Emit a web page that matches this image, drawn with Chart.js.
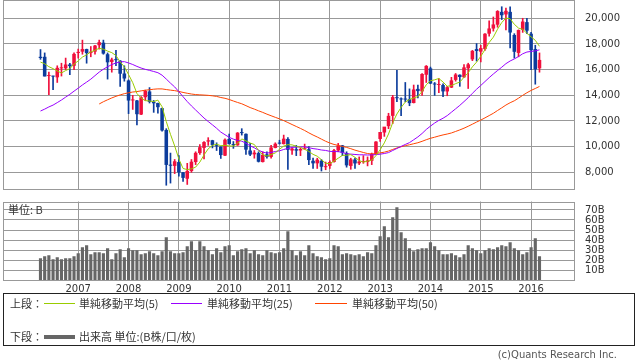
<!DOCTYPE html>
<html>
<head>
<meta charset="utf-8">
<script src="https://cdn.jsdelivr.net/npm/chart.js@4.4.1/dist/chart.umd.min.js"></script>
<style>
  body { margin: 0; background: #fff; width: 638px; height: 362px; overflow: hidden; position: relative;
         font-family: "Noto Sans CJK JP", "DejaVu Sans", sans-serif; color: #333; }
  #priceWrap { position: absolute; left: 0; top: 0; }
  #volWrap { position: absolute; left: 0; top: 200px; }
  .lg { position: absolute; font-size: 11px; line-height: 14px; white-space: nowrap; }
  .ln { position: absolute; display: block; height: 1px; }
  #legend { position: absolute; left: 3px; top: 293px; width: 630px; height: 51px; border: 1px solid #222; }
  #copy { position: absolute; right: 21px; top: 349px; font-size: 10px; color: #555; font-family: "DejaVu Sans", sans-serif; }
  #unit { position: absolute; left: 8px; top: 201px; font-size: 11px; }
</style>
</head>
<body>
<div id="priceWrap"><canvas id="price" width="638" height="191"></canvas></div>
<div id="volWrap"><canvas id="vol" width="638" height="95"></canvas></div>
<div id="unit">単位: B</div>
<div id="legend">
  <span class="lg" style="left:6px;top:2px">上段：</span>
  <span class="ln" style="left:40px;top:9px;width:31px;background:#99cc00"></span>
  <span class="lg" style="left:75px;top:2px">単純移動平均(5)</span>
  <span class="ln" style="left:167px;top:9px;width:31px;background:#9900ff"></span>
  <span class="lg" style="left:203px;top:2px">単純移動平均(25)</span>
  <span class="ln" style="left:311px;top:9px;width:32px;background:#ff4400"></span>
  <span class="lg" style="left:348px;top:2px">単純移動平均(50)</span>
  <span class="lg" style="left:6px;top:35px">下段：</span>
  <span class="ln" style="left:40px;top:41px;width:31px;height:4px;background:#666"></span>
  <span class="lg" style="left:75px;top:35px">出来高 単位:(B株/口/枚)</span>
</div>
<div id="copy">(c)Quants Research Inc.</div>
<script>
// monthly candles, Apr 2006 .. Mar 2016
const yearTicks = [9, 21, 33, 45, 57, 69, 81, 93, 105, 117];
const yearLabels = ['2007','2008','2009','2010','2011','2012','2013','2014','2015','2016'];
const priceTicks = [8000, 10000, 12000, 14000, 16000, 18000, 20000];
const volTicks = [10, 20, 30, 40, 50, 60, 70];

const open = [
  17000,17000,15500,15500,15400,16100,16100,16400,16300,
  17300,17400,17600,17300,17400,17900,18100,17200,16600,16800,16700,15700,
  15155,13600,13600,12500,13850,14300,13500,13400,13000,11300,8600,8500,
  8800,8000,7500,8100,8800,9500,9900,10400,10500,10100,10000,9300,
  10600,10200,10100,11100,11000,9700,9400,9500,8800,9400,9200,9900,
  10300,10200,10600,9700,9800,9700,9800,9800,8900,8700,8900,8400,
  8500,8800,9700,10100,9500,8500,9000,8700,8800,8800,8900,9400,
  10600,11100,11600,12400,13800,13700,13700,13700,13400,14500,14300,15600,
  16100,14900,14800,14800,14300,14600,15200,15600,15400,16100,16800,17600,
  17400,17600,18800,19200,19500,20500,20300,20500,18700,17300,19100,19700,
  18800,17600,16100
];
const high = [
  17563,17302,15800,15500,16300,16500,16900,16500,17300,
  17600,18300,17600,17800,17900,18300,18300,17300,16900,17500,16700,16300,
  15200,14000,13600,13900,14400,14600,13600,13400,13000,11400,9500,9000,
  9300,8000,8700,9000,9600,10170,10400,10700,10500,10300,10000,10600,
  10982,10400,11100,11400,11000,10250,9700,9600,9600,9600,10100,10300,
  10500,10900,10700,9900,10100,9900,10200,10000,9100,9100,9000,8800,
  8900,9800,10255,10100,9600,9100,9100,9200,9300,9200,9500,10400,
  11100,11500,12600,14000,15942,13800,15000,14500,14800,14800,15700,16320,
  16200,15000,15300,14900,14700,15400,15700,15600,16400,16500,17500,18030,
  17900,18800,19800,20100,20600,20900,20800,20900,18800,19100,20000,20000,
  18900,17900,17300
];
const low = [
  16800,15500,14045,14437,15000,15500,16000,15600,16000,
  16900,17200,16500,17000,17200,17600,17200,15262,15800,16300,14700,15100,
  12573,12900,11691,12500,13600,13400,12671,12600,11200,6994,7162,7900,
  7700,7300,7055,8000,8600,9400,9050,10100,9900,9700,9081,9300,
  10200,9867,10100,10900,9400,9300,9100,8800,8800,9100,9100,9900,
  10200,10200,8227,9400,9300,9300,9800,8600,8300,8300,8100,8200,
  8300,8800,9600,9300,8400,8238,8300,8600,8700,8500,8600,9400,
  10400,10800,11400,11800,13500,12415,13500,13188,13400,13800,14000,15000,
  14900,13995,14200,13885,13964,14600,15100,14700,15400,14529,16700,16672,
  16600,17500,18600,19000,19300,19900,19100,17700,16900,17000,18900,18800,
  16000,14865,15800
];
const close = [
  16906,15467,15505,15456,16140,16127,16399,16274,17226,
  17383,17604,17288,17400,17876,18138,17249,16569,16786,16738,15681,15308,
  13592,13604,12526,13850,14338,13481,13377,13073,11260,8577,8512,8860,
  7994,7568,8109,8828,9522,9958,10357,10492,10133,10034,9345,10546,
  10198,10126,11089,11057,9768,9382,9537,8824,9369,9202,9937,10228,
  10237,10624,9755,9849,9693,9816,9833,8955,8700,8988,8434,8455,
  8802,9723,10083,9521,8543,9007,8695,8840,8870,8928,9446,10395,
  11139,11559,12398,13861,13775,13677,13668,13389,14456,14328,15662,16291,
  14915,14841,14828,14304,14632,15162,15621,15425,16174,16414,17460,17451,
  17674,18798,19207,19520,20563,20236,20585,18890,17388,19083,19747,19034,
  17518,16027,16759
];
const ma5 = [
  16586,16457,16228,16079,15895,15739,15925,16079,16433,16682,
  16977,17155,17380,17510,17661,17590,17446,17324,17096,16605,
  16216,15621,14985,14142,13776,13582,13560,13514,13624,13106,
  11954,10960,10056,9041,8302,8209,8272,8404,8797,9355,
  9831,10092,10195,10072,10110,10051,10050,10261,10603,10448,
  10284,10167,9714,9376,9263,9374,9512,9795,10046,10156,
  10139,10032,9947,9789,9629,9399,9258,8982,8706,8676,
  8880,9099,9317,9334,9375,9170,8921,8791,8868,8956,
  9296,9756,10293,10987,11870,12546,13054,13476,13674,13793,
  13904,14301,14825,15130,15207,15307,15036,14704,14753,14909,
  15029,15403,15759,16219,16585,17035,17559,18118,18530,19152,
  19665,20022,19959,19532,19236,19139,18828,18554,18282,17817
];
const ma25 = [
  12775,12924,13094,13238,13431,13633,13856,14076,14322,14558,
  14806,15028,15257,15532,15807,16033,16220,16395,16521,16604,
  16622,16521,16399,16252,16124,16021,15942,15856,15761,15566,
  15264,14948,14652,14283,13890,13510,13172,12857,12540,12229,
  11958,11701,11431,11135,10930,10725,10587,10486,10427,10264,
  10066,9908,9726,9578,9495,9550,9619,9674,9779,9866,
  9936,9970,9982,9977,9921,9849,9804,9740,9704,9634,
  9615,9614,9551,9450,9420,9392,9365,9366,9349,9358,
  9377,9413,9466,9537,9701,9858,10018,10172,10314,10534,
  10759,11026,11340,11599,11840,12045,12213,12418,12683,12947,
  13216,13510,13812,14153,14473,14764,15071,15376,15661,15929,
  16188,16464,16673,16833,17018,17235,17370,17419,17463,17540
];
const ma50 = [
  null,null,null,null,null,null,null,null,null,null,null,null,null,null,
  13324,13500,13650,13794,13922,14031,14126,14196,14255,14290,
  14346,14398,14433,14475,14500,14498,14448,14402,14364,14302,
  14224,14158,14100,14057,14036,14018,13996,13960,13913,13828,
  13767,13674,13554,13443,13340,13194,13043,12925,12791,12669,
  12531,12407,12283,12163,12031,11878,11723,11571,11419,11259,
  11075,10904,10752,10585,10420,10282,10170,10100,10019,9939,
  9842,9729,9636,9546,9463,9427,9463,9516,9570,9658,
  9784,9897,9994,10077,10146,10228,10304,10415,10540,10651,
  10737,10830,10914,10984,11066,11184,11304,11437,11589,11751,
  11916,12070,12242,12421,12599,12815,13023,13241,13422,13574,
  13776,13997,14198,14380,14531,14690
];
const volume = [
  21.8,23.8,24.8,20.8,22.8,20.8,21.8,21.8,23.8,26.8,
  32.8,34.8,25.8,27.8,27.8,26.8,31.8,20.8,26.8,30.8,
  22.8,31.8,29.8,29.8,25.8,26.8,28.8,26.8,24.8,28.8,
  42.8,28.8,26.8,26.8,27.8,33.8,38.8,29.8,38.8,33.8,
  29.8,25.8,31.8,27.8,33.8,34.8,24.8,28.8,30.8,31.8,
  26.8,29.8,25.8,24.8,29.8,27.8,26.8,27.8,31.8,48.8,
  29.8,24.8,28.8,24.8,34.8,26.8,23.8,22.8,20.8,21.8,
  34.8,33.8,25.8,26.8,25.8,24.8,25.8,23.8,27.8,26.8,
  34.8,43.8,53.8,42.8,62.8,72.8,47.8,41.8,31.8,28.8,
  30.8,31.8,31.8,37.8,33.8,29.8,25.8,25.8,26.8,24.8,
  22.8,25.8,34.8,31.8,29.8,26.8,29.8,31.8,30.8,32.8,
  34.8,33.8,37.8,31.8,29.8,25.8,27.8,32.8,41.8,23.8
];

const UP = '#f0103c', DOWN = '#0c3c9c', GRID = '#999999';
const colors = open.map((o, i) => close[i] >= o ? UP : DOWN);
const xy = arr => arr.map((v, i) => ({ x: i, y: v }));
const xMin = -8.94, xMax = 127.47;

const frame = {
  id: 'frame',
  beforeDatasetsDraw(chart) {
    const a = chart.chartArea, c = chart.ctx;
    c.save();
    c.strokeStyle = GRID;
    c.lineWidth = 1;
    c.strokeRect(Math.round(a.left) + 0.5, Math.round(a.top) + 0.5,
                 Math.round(a.right - a.left) - 1, Math.round(a.bottom - a.top) - 1);
    c.restore();
  }
};

const xAxis = (showLabels, h) => ({
  type: 'linear', min: xMin, max: xMax, offset: false,
  afterBuildTicks: s => { s.ticks = yearTicks.map(v => ({ value: v })); },
  afterFit: s => { s.height = h; s.paddingLeft = 0; s.paddingRight = 0; },
  grid: { color: GRID, drawTicks: false, offset: false },
  border: { display: false },
  ticks: {
    display: showLabels, autoSkip: false, maxRotation: 0, padding: 3, color: '#333',
    font: { family: 'DejaVu Sans', size: 10 },
    callback: v => yearLabels[yearTicks.indexOf(v)]
  }
});

// labels sit at the right, away from the frame; no extra vertical room for them
const yAxis = (min, max, list, fmt) => ({
  position: 'right', min: min, max: max,
  afterBuildTicks: s => { s.ticks = list.map(v => ({ value: v })); },
  afterFit: s => { s.width = 63; s.paddingTop = 0; s.paddingBottom = 0; },
  grid: { color: GRID, drawTicks: false },
  border: { display: false },
  ticks: { autoSkip: false, padding: 10, color: '#333', font: { family: 'DejaVu Sans', size: 10 },
           callback: fmt }
});

new Chart(document.getElementById('price'), {
  type: 'bar',
  data: {
    datasets: [
      { type: 'line', data: xy(ma5), borderColor: '#99cc00', borderWidth: 1, pointRadius: 0, tension: 0 },
      { type: 'line', data: xy(ma25), borderColor: '#9900ff', borderWidth: 1, pointRadius: 0, tension: 0 },
      { type: 'line', data: xy(ma50), borderColor: '#ff4400', borderWidth: 1, pointRadius: 0, tension: 0 },
      { data: open.map((o, i) => ({ x: i, y: [o, close[i]] })), backgroundColor: colors,
        grouped: false, barPercentage: 0.85, categoryPercentage: 1, minBarLength: 1 },
      { data: low.map((l, i) => ({ x: i, y: [l, high[i]] })), backgroundColor: colors,
        grouped: false, barThickness: 1 }
    ]
  },
  options: {
    responsive: false, animation: false,
    layout: { padding: { left: 3, top: 0, right: 0, bottom: 0 } },
    plugins: { legend: { display: false }, tooltip: { enabled: false } },
    scales: {
      x: xAxis(false, 1),
      y: yAxis(6623, 21424, priceTicks, v => v.toLocaleString('en-US'))
    }
  },
  plugins: [frame]
});

new Chart(document.getElementById('vol'), {
  type: 'bar',
  data: {
    datasets: [
      { data: xy(volume), backgroundColor: '#666666', barPercentage: 0.75, categoryPercentage: 1 }
    ]
  },
  options: {
    responsive: false, animation: false,
    layout: { padding: { left: 3, top: 1.5, right: 0, bottom: 0 } },
    plugins: { legend: { display: false }, tooltip: { enabled: false } },
    scales: {
      x: xAxis(true, 15),
      y: yAxis(0, 78.5, volTicks, v => v + 'B')
    }
  },
  plugins: [frame]
});
</script>
</body>
</html>
